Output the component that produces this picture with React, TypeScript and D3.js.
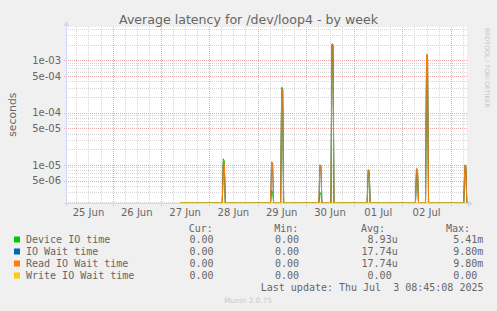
import React from "react";
import * as d3 from "d3";

const W = 497;
const H = 311;

// ---- data (non-zero 30-min samples; all other samples after dataStart are 0) ----
const sampleTimes = [
  "2025-06-28T07:00", "2025-06-28T07:30",
  "2025-06-29T07:00", "2025-06-29T07:30",
  "2025-06-29T12:00", "2025-06-29T12:30",
  "2025-06-30T07:00", "2025-06-30T07:30",
  "2025-06-30T13:00", "2025-06-30T13:30",
  "2025-07-01T07:00", "2025-07-01T07:30",
  "2025-07-02T07:00", "2025-07-02T07:30",
  "2025-07-02T12:00", "2025-07-02T12:30",
  "2025-07-03T07:00", "2025-07-03T07:30",
];
const deviceValues = [
  1.32e-5, 1.2e-5, 3.3e-6, 3.0e-6, 3.05e-4, 2.9e-4, 3.0e-6, 2.8e-6, 1.96e-3, 1.9e-3,
  7.0e-6, 6.8e-6, 7.4e-6, 7.2e-6, 6.0e-4, 5.5e-4, 8.8e-6, 8.5e-6,
];
const ioWaitValues = [
  1.14e-5, 1.1e-5, 1.14e-5, 1.1e-5, 2.85e-4, 2.8e-4, 1.01e-5, 9.8e-6, 2.05e-3, 2.0e-3,
  8.1e-6, 7.9e-6, 8.5e-6, 8.3e-6, 1.28e-3, 1.25e-3, 1.0e-5, 9.8e-6,
];
const readWaitValues = [
  1.14e-5, 1.1e-5, 1.14e-5, 1.1e-5, 2.85e-4, 2.8e-4, 1.01e-5, 9.8e-6, 2.05e-3, 2.0e-3,
  8.1e-6, 7.9e-6, 8.5e-6, 8.3e-6, 1.28e-3, 1.25e-3, 1.0e-5, 9.8e-6,
];
const writeWaitValues = [0, 0, 0, 0, 0, 0, 0, 0, 0, 0, 0, 0, 0, 0, 0, 0, 0, 0];
const dataStart = "2025-06-27T09:30";
const dataEnd = "2025-07-03T08:30";

const xDomain = ["2025-06-25T01:20", "2025-07-03T08:06"];
const yDomain = [1.89e-6, 4.32e-3];
const yTickValues = [1e-3, 5e-4, 1e-4, 5e-5, 1e-5, 5e-6];
const yTickLabels = ["1e-03", "5e-04", "1e-04", "5e-05", "1e-05", "5e-06"];
const xTickDays = ["2025-06-25", "2025-06-26", "2025-06-27", "2025-06-28", "2025-06-29", "2025-06-30", "2025-07-01", "2025-07-02"];
const xTickLabels = ["25 Jun", "26 Jun", "27 Jun", "28 Jun", "29 Jun", "30 Jun", "01 Jul", "02 Jul"];

const seriesNames = ["Device IO time", "IO Wait time", "Read IO Wait time", "Write IO Wait time"];
const seriesColors = ["#00cc00", "#0066b3", "#ff8000", "#ffcc00"];
const curValues = ["0.00", "0.00", "0.00", "0.00"];
const minValues = ["0.00", "0.00", "0.00", "0.00"];
const avgValues = ["8.93u", "17.74u", "17.74u", "0.00"];
const maxValues = ["5.41m", "9.80m", "9.80m", "0.00"];

// ---- layout ----
const plot = { left: 67, right: 467, top: 27, bottom: 203 };
const FONT = "DejaVu Sans, sans-serif";
const MONO = "DejaVu Sans Mono, monospace";
const TXT = "#666666";
const AXIS = "#cfd6f8";
const GRID = "#d6d6d6";
const MGRID = "#eaa8a8";

const parseT = d3.timeParse("%Y-%m-%dT%H:%M");
const parseD = d3.timeParse("%Y-%m-%d");

export default function App() {
  const x = d3
    .scaleTime()
    .domain(xDomain.map((s) => parseT(s) as Date))
    .range([plot.left, plot.right]);
  const y = d3.scaleLog().domain(yDomain).range([plot.bottom, plot.top]).clamp(true);
  const yv = (v: number) => y(Math.max(v, yDomain[0]));

  const samples = d3.timeMinute
    .every(30)!
    .range(parseT(dataStart) as Date, d3.timeMinute.offset(parseT(dataEnd) as Date, 1));
  const idx = new Map<number, number>();
  sampleTimes.forEach((s, i) => idx.set((parseT(s) as Date).getTime(), i));
  const allVals = [deviceValues, ioWaitValues, readWaitValues, writeWaitValues];
  const series = allVals.map((vals) =>
    samples.map((t) => {
      const i = idx.get(t.getTime());
      return { t, v: i === undefined ? 0 : vals[i] };
    })
  );
  const line = d3
    .line<{ t: Date; v: number }>()
    .x((d) => x(d.t))
    .y((d) => yv(d.v))
    .curve(d3.curveLinear);

  const [d0, d1] = x.domain();
  const minorX = d3.timeHour.every(6)!.range(d0, d1).filter((t) => t.getHours() !== 0);
  const majorX = d3.timeDay.range(d0, d1);
  const logGrid: { v: number; major: boolean }[] = [];
  for (let e = -7; e <= -2; e++) {
    for (let m = 1; m <= 9; m++) {
      const v = m * Math.pow(10, e);
      if (v >= yDomain[0] && v <= yDomain[1]) logGrid.push({ v, major: m === 1 || m === 5 });
    }
  }
  const px = (v: number) => Math.round(v) + 0.5;

  const colCur = 219.5;
  const colMin = 305;
  const colAvg = 397.7;
  const colMax = 483.3;
  const charW = 6.02;
  const endX = (col: number, s: string) => (/[a-z]$/i.test(s) ? col : col - charW);
  const rowY = (i: number) => 239.5 + i * 12;

  return (
    <svg
      width={W}
      height={H}
      style={{ position: "absolute", left: 0, top: 0, display: "block" }}
      xmlns="http://www.w3.org/2000/svg"
    >
      <rect x={0} y={0} width={W} height={H} fill="#f0f0f0" />
      <rect x={plot.left} y={plot.top} width={plot.right - plot.left} height={plot.bottom - plot.top} fill="#ffffff" />

      {minorX.map((t, i) => (
        <line key={"mx" + i} x1={px(x(t))} x2={px(x(t))} y1={plot.top} y2={plot.bottom + 1} stroke={GRID} strokeDasharray="1,1" shapeRendering="crispEdges" />
      ))}
      {logGrid.filter((g) => !g.major).map((g, i) => (
        <line key={"my" + i} x1={plot.left - 1} x2={plot.right} y1={px(y(g.v))} y2={px(y(g.v))} stroke={GRID} strokeDasharray="1,1" shapeRendering="crispEdges" />
      ))}
      {majorX.map((t, i) => (
        <line key={"Mx" + i} x1={px(x(t))} x2={px(x(t))} y1={plot.top} y2={plot.bottom + 3} stroke={MGRID} strokeDasharray="1,1" shapeRendering="crispEdges" />
      ))}
      {logGrid.filter((g) => g.major).map((g, i) => (
        <line key={"My" + i} x1={plot.left - 3} x2={plot.right} y1={px(y(g.v))} y2={px(y(g.v))} stroke={MGRID} strokeDasharray="1,1" shapeRendering="crispEdges" />
      ))}

      {series.map((s, i) => (
        <path key={"s" + i} d={line(s) || ""} fill="none" stroke={seriesColors[i]} strokeWidth={1} />
      ))}

      <line x1={plot.left - 0.5} x2={plot.left - 0.5} y1={plot.bottom + 3} y2={plot.top - 2} stroke={AXIS} />
      <path d={`M${plot.left - 3.5},${plot.top - 1} L${plot.left - 0.5},${plot.top - 6} L${plot.left + 2.5},${plot.top - 1} Z`} fill={AXIS} />
      <line x1={plot.left - 3} x2={plot.right + 3} y1={plot.bottom + 0.5} y2={plot.bottom + 0.5} stroke={AXIS} />
      <path d={`M${plot.right + 1},${plot.bottom - 2.5} L${plot.right + 6},${plot.bottom + 0.5} L${plot.right + 1},${plot.bottom + 3.5} Z`} fill={AXIS} />

      {yTickValues.map((v, i) => (
        <text key={"yl" + i} x={61} y={y(v) + 3.6} textAnchor="end" fontFamily={FONT} fontSize={10} fill={TXT}>
          {yTickLabels[i]}
        </text>
      ))}
      {xTickDays.map((d, i) => (
        <text key={"xl" + i} x={x(d3.timeHour.offset(parseD(d) as Date, 12))} y={215.6} textAnchor="middle" fontFamily={FONT} fontSize={10} fill={TXT}>
          {xTickLabels[i]}
        </text>
      ))}

      <text x={248.5} y={23.5} textAnchor="middle" fontFamily={FONT} fontSize={12.6} fill={TXT}>
        Average latency for /dev/loop4 - by week
      </text>
      <text transform="translate(15.5,114.7) rotate(-90)" textAnchor="middle" fontFamily={FONT} fontSize={10.8} fill={TXT}>
        seconds
      </text>
      <text transform="translate(485,28) rotate(90)" textAnchor="start" fontFamily={FONT} fontSize={6.2} fill="#c8c8c8">
        RRDTOOL / TOBI OETIKER
      </text>

      <text x={colCur - 6.6} y={231.8} textAnchor="end" fontFamily={MONO} fontSize={10} fill={TXT}>Cur:</text>
      <text x={colMin - 6.6} y={231.8} textAnchor="end" fontFamily={MONO} fontSize={10} fill={TXT}>Min:</text>
      <text x={colAvg - 12.7} y={231.8} textAnchor="end" fontFamily={MONO} fontSize={10} fill={TXT}>Avg:</text>
      <text x={colMax - 13.3} y={231.8} textAnchor="end" fontFamily={MONO} fontSize={10} fill={TXT}>Max:</text>
      {seriesNames.map((n, i) => (
        <g key={"lg" + i}>
          <rect x={14} y={rowY(i) - 3} width={6} height={6} fill={seriesColors[i]} />
          <text x={26} y={rowY(i) + 3.5} fontFamily={MONO} fontSize={10} fill={TXT}>{n}</text>
          <text x={endX(colCur, curValues[i])} y={rowY(i) + 3.5} textAnchor="end" fontFamily={MONO} fontSize={10} fill={TXT}>{curValues[i]}</text>
          <text x={endX(colMin, minValues[i])} y={rowY(i) + 3.5} textAnchor="end" fontFamily={MONO} fontSize={10} fill={TXT}>{minValues[i]}</text>
          <text x={endX(colAvg, avgValues[i])} y={rowY(i) + 3.5} textAnchor="end" fontFamily={MONO} fontSize={10} fill={TXT}>{avgValues[i]}</text>
          <text x={endX(colMax, maxValues[i])} y={rowY(i) + 3.5} textAnchor="end" fontFamily={MONO} fontSize={10} fill={TXT}>{maxValues[i]}</text>
        </g>
      ))}
      <text x={483.5} y={290.8} textAnchor="end" fontFamily={MONO} fontSize={10} fill={TXT} style={{ whiteSpace: "pre" }}>
        {"Last update: Thu Jul  3 08:45:08 2025"}
      </text>
      <text x={248} y={302.6} textAnchor="middle" fontFamily={FONT} fontSize={7.3} fill="#c8c8c8">
        Munin 2.0.75
      </text>
    </svg>
  );
}
